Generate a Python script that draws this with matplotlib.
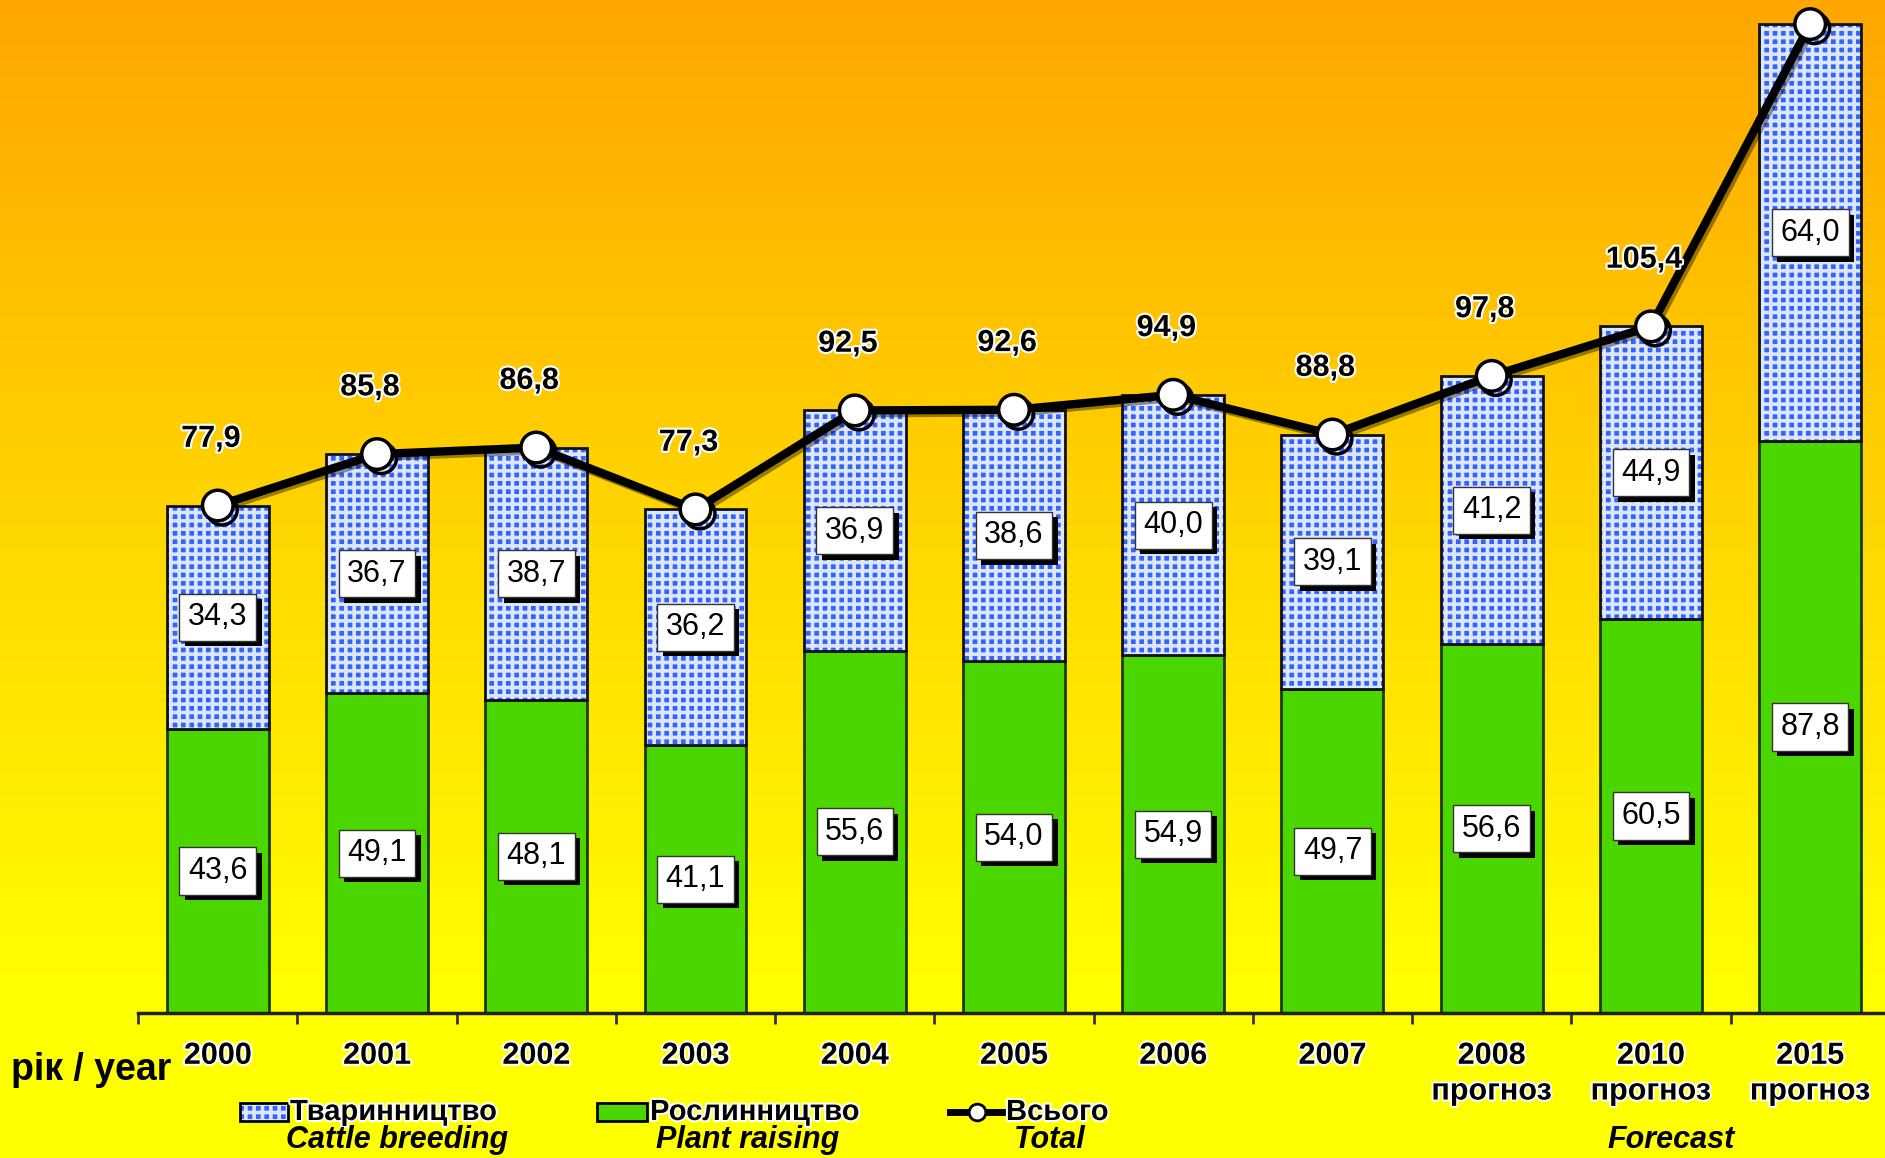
import matplotlib
matplotlib.use("Agg")
import matplotlib.pyplot as plt
import matplotlib.patheffects as pe
from matplotlib.colors import LinearSegmentedColormap
from matplotlib.patches import Rectangle
from matplotlib.lines import Line2D
import numpy as np

# data
years = ['2000', '2001', '2002', '2003', '2004', '2005', '2006', '2007',
         '2008\nпрогноз', '2010\nпрогноз', '2015\nпрогноз']
plant = [43.6, 49.1, 48.1, 41.1, 55.6, 54.0, 54.9, 49.7, 56.6, 60.5, 87.8]
cattle = [34.3, 36.7, 38.7, 36.2, 36.9, 38.6, 40.0, 39.1, 41.2, 44.9, 64.0]
total = [77.9, 85.8, 86.8, 77.3, 92.5, 92.6, 94.9, 88.8, 97.8, 105.4, 151.8]
total_lbl = ['77,9', '85,8', '86,8', '77,3', '92,5', '92,6', '94,9', '88,8', '97,8', '105,4', '']

plt.rcParams['font.family'] = ['Liberation Sans', 'DejaVu Sans']
plt.rcParams['hatch.linewidth'] = 2.6

green = '#4cd600'
blue = '#3563ff'

fig = plt.figure(figsize=(18.85, 11.58), dpi=100)

# background gradient orange -> yellow
bg = fig.add_axes([0, 0, 1, 1])
grad = np.linspace(0, 1, 256).reshape(-1, 1)
cmap = LinearSegmentedColormap.from_list('bg', [(0, '#ffa600'), (0.5, '#ffdb00'), (0.86, '#ffff00'), (1, '#ffff00')])
bg.imshow(grad, aspect='auto', cmap=cmap, extent=[0, 1, 0, 1], origin='upper')
bg.set_axis_off()

ax = fig.add_axes([0.0733, 0.1252, 0.9267, 0.8748])
ax.patch.set_alpha(0)
x = np.arange(len(years))
w = 0.64

ax.bar(x, plant, w, color=green, edgecolor='#1a3a00', linewidth=2, zorder=2)
ax.bar(x, cattle, w, bottom=plant, color=blue, edgecolor='#dce6ff', hatch='++', linewidth=0, zorder=2)
ax.bar(x, cattle, w, bottom=plant, fill=False, edgecolor='#111111', linewidth=2, zorder=3)

shadow = [pe.SimplePatchShadow(offset=(4, -4), shadow_rgbFace='black', alpha=1), pe.Normal()]
box = dict(boxstyle='square,pad=0.28', fc='white', ec='#333333', lw=1)

for i in range(len(x)):
    t = ax.text(x[i], plant[i] / 2, f'{plant[i]:.1f}'.replace('.', ','), ha='center', va='center',
                fontsize=22, bbox=box, zorder=6)
    t.get_bbox_patch().set_path_effects(shadow)
    t = ax.text(x[i], plant[i] + cattle[i] / 2, f'{cattle[i]:.1f}'.replace('.', ','), ha='center',
                va='center', fontsize=22, bbox=box, zorder=6)
    t.get_bbox_patch().set_path_effects(shadow)

# total line
ax.plot(x, total, color='black', lw=6, zorder=4,
         path_effects=[pe.SimpleLineShadow(offset=(2, -2), alpha=0.4), pe.Normal()])
ax.plot(x, total, 'o', ms=22, mfc='white', mec='black', mew=2.5, zorder=5,
        path_effects=[pe.SimpleLineShadow(offset=(3, -3), alpha=1, shadow_color='black'), pe.Normal()])

outline = [pe.withStroke(linewidth=3, foreground='white')]
for i in range(len(x)):
    if total_lbl[i]:
        ax.annotate(total_lbl[i], (x[i], total[i]), xytext=(-5, 48), textcoords='offset points',
                    ha='center', va='center', fontsize=22, fontweight='bold', zorder=6,
                    path_effects=outline)

ax.set_xlim(-0.5, 10.47)
ax.set_ylim(0, 155.5)
ax.set_yticks([])
ax.set_xticks(x)
ax.set_xticklabels(years, fontsize=22, fontweight='bold', linespacing=1.25)
for lbl in ax.get_xticklabels():
    lbl.set_path_effects(outline)
ax.tick_params(axis='x', length=0, pad=20)
ax.set_xticks(np.arange(-0.5, 10.5, 1), minor=True)
ax.tick_params(axis='x', which='minor', length=8, width=2, color='#333333')
for s in ['top', 'right', 'left']:
    ax.spines[s].set_visible(False)
ax.spines['bottom'].set_linewidth(2.5)
ax.spines['bottom'].set_color('#222222')

fig.text(0.006, 0.076, 'рік / year', fontsize=27, fontweight='bold', va='center')

# legend
ly = 1 - 1112 / 1158
fig.patches.append(Rectangle((240 / 1885, ly - 0.0075), 48 / 1885, 0.015, transform=fig.transFigure,
                             facecolor=blue, edgecolor='#dce6ff', hatch='++', lw=0))
fig.patches.append(Rectangle((240 / 1885, ly - 0.0075), 48 / 1885, 0.015, transform=fig.transFigure,
                             fill=False, edgecolor='black', lw=2))
fig.patches.append(Rectangle((597 / 1885, ly - 0.0075), 50 / 1885, 0.015, transform=fig.transFigure,
                             facecolor=green, edgecolor='black', lw=2))
fig.lines.append(Line2D([950 / 1885, 1004 / 1885], [ly, ly], transform=fig.transFigure, color='black',
                        lw=5))
fig.lines.append(Line2D([977 / 1885], [ly], transform=fig.transFigure, marker='o', ms=12,
                        mfc='white', mec='black', mew=2, lw=0))
lkw = dict(fontsize=21, fontweight='bold', va='center', path_effects=outline)
fig.text(290 / 1885, ly, 'Тваринництво', **lkw)
fig.text(650 / 1885, ly, 'Рослинництво', **lkw)
fig.text(1006 / 1885, ly, 'Всього', **lkw)
ey = 1 - 1140 / 1158
ekw = dict(fontsize=22, fontweight='bold', style='italic', ha='center', va='center')
fig.text(397 / 1885, ey, 'Cattle breeding', **ekw)
fig.text(748 / 1885, ey, 'Plant raising', **ekw)
fig.text(1050 / 1885, ey, 'Total', **ekw)
fig.text(1671 / 1885, ey, 'Forecast', **ekw)

fig.savefig('out.png', dpi=100)
